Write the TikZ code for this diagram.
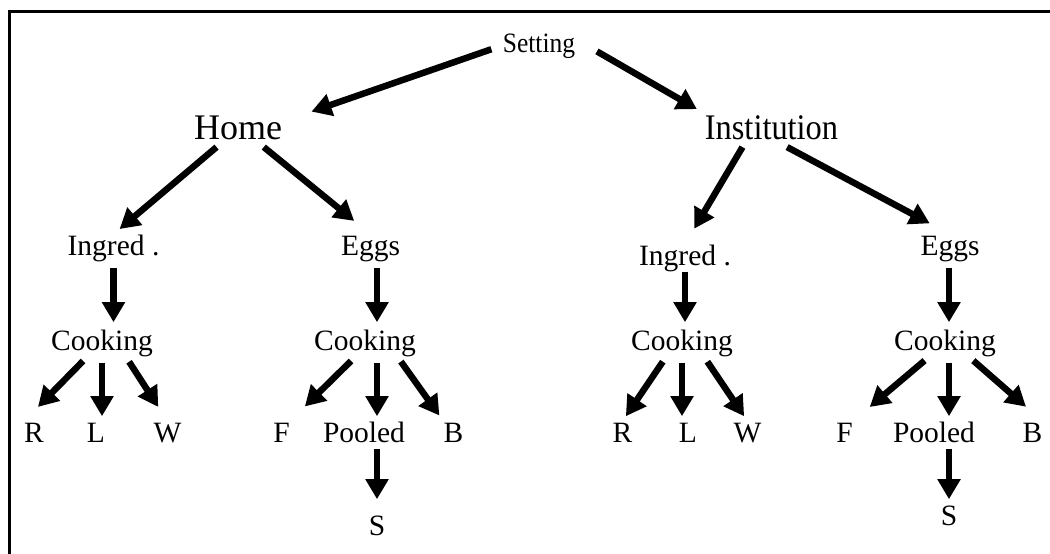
\documentclass[tikz,border=0pt]{standalone}
\usepackage{graphicx}
\usepackage{fontspec}
\setmainfont{Liberation Serif}
\usetikzlibrary{arrows.meta}
\tikzset{
  lbl/.style={inner sep=0pt, anchor=base, font=\fontsize{29.5}{31}\selectfont,
    text height=20.6pt, text depth=6.5pt},
  toplbl/.style={lbl, font=\fontsize{28}{30}\selectfont, text height=19.6pt, text depth=6.2pt},
  biglbl/.style={lbl, font=\fontsize{36}{38}\selectfont, text height=25.2pt, text depth=7.9pt},
  flow/.style={-{Triangle[length=20pt,width=22pt]}, line width=6.5pt, shorten <=6pt},
  frame/.style={line width=3pt},
}

\begin{document}
\begin{tikzpicture}[x=1pt, y=-1pt]
\useasboundingbox (0,0) rectangle (1050,554);
\draw[frame] (1053,11.3) -- (9.3,11.3) -- (9.3,557);

% Top levels.
\node[toplbl] (set) at (539,52) {\scalebox{0.91}[1]{Setting}};
\node[biglbl] (home) at (238,139) {Home};
\node[biglbl] (inst) at (771.5,139) {\scalebox{0.9}[1]{Institution}};

% Home branch.
\node[lbl] (ingL) at (113.5,255) {Ingred .};
\node[lbl] (eggL) at (370.5,255) {Eggs};
\node[lbl] (cookL) at (102,350) {Cooking};
\node[lbl] (cookLE) at (365,350) {Cooking};
\node[lbl] (rL) at (34,442) {R};
\node[lbl] (lL) at (96,442) {L};
\node[lbl] (wL) at (167.5,442) {W};
\node[lbl] (fL) at (281.5,442) {F};
\node[lbl] (pooL) at (364,442) {Pooled};
\node[lbl] (bL) at (453.5,442) {B};
\node[lbl] (sL) at (377,535) {S};

% Institution branch.
\node[lbl] (ingR) at (685,265) {Ingred .};
\node[lbl] (eggR) at (950,255) {Eggs};
\node[lbl] (cookR) at (682,350) {Cooking};
\node[lbl] (cookRE) at (945,350) {Cooking};
\node[lbl] (rR) at (622.5,442) {R};
\node[lbl] (lR) at (688,442) {L};
\node[lbl] (wR) at (747.5,442) {W};
\node[lbl] (fR) at (844.5,442) {F};
\node[lbl] (pooR) at (934,442) {Pooled};
\node[lbl] (bR) at (1032.5,442) {B};
\node[lbl] (sR) at (949,525) {S};

\draw[flow, shorten <=12pt, shorten >=31pt] (set.west) -- (home.11);
\draw[flow, shorten <=25pt, shorten >=9pt] (set.10) -- (inst.north west);
\draw[flow, shorten <=0pt, shorten >=8pt] (home.218) -- (ingL.north);
\draw[flow, shorten <=0pt, shorten >=21pt] (home.-33) -- (eggL.north);
\draw[flow, shorten <=0pt, shorten >=18pt] (inst.210) -- (ingR.north);
\draw[flow, shorten <=0pt, shorten >=23pt] (inst.-47) -- (eggR.north);

\draw[flow, shorten >=7pt] (ingL.south) -- (ingL.south |- cookL.north);
\draw[flow, shorten >=7pt] (sL |- eggL.south) -- (sL |- cookLE.north);
\draw[flow, shorten <=0pt, shorten >=7pt] (ingR.south) -- (ingR.south |- cookR.north);
\draw[flow, shorten >=7pt] (sR |- eggR.south) -- (sR |- cookRE.north);

\draw[flow, shorten >=20pt] (cookL.223) -- (rL.north west);
\draw[flow, shorten >=5pt] (cookL.south) -- (cookL.south |- lL.north);
\draw[flow, shorten >=17pt] (cookL.-30) -- (wL.north);
\draw[flow, shorten >=21pt] (cookLE.235) -- (fL.north east);
\draw[flow, shorten >=5pt] (sL |- cookLE.south) -- (sL |- pooL.north);
\draw[flow, shorten >=7pt] (cookLE.-23) -- (bL.north west);
\draw[flow, shorten <=0pt, shorten >=15pt] (sL |- pooL.south) -- (sL.north);

\draw[flow, shorten >=6pt] (cookR.221) -- (rR.north);
\draw[flow, shorten >=5pt] (cookR.south) -- (cookR.south |- lR.north);
\draw[flow, shorten >=6pt] (cookR.-32) -- (wR.north);
\draw[flow, shorten >=22pt] (cookRE.221) -- (fR.north east);
\draw[flow, shorten >=5pt] (sR |- cookRE.south) -- (sR |- pooR.north);
\draw[flow, shorten >=22pt] (cookRE.-30) -- (bR.north east);
\draw[flow, shorten <=0pt, shorten >=5pt] (sR |- pooR.south) -- (sR.north);

\end{tikzpicture}
\end{document}
